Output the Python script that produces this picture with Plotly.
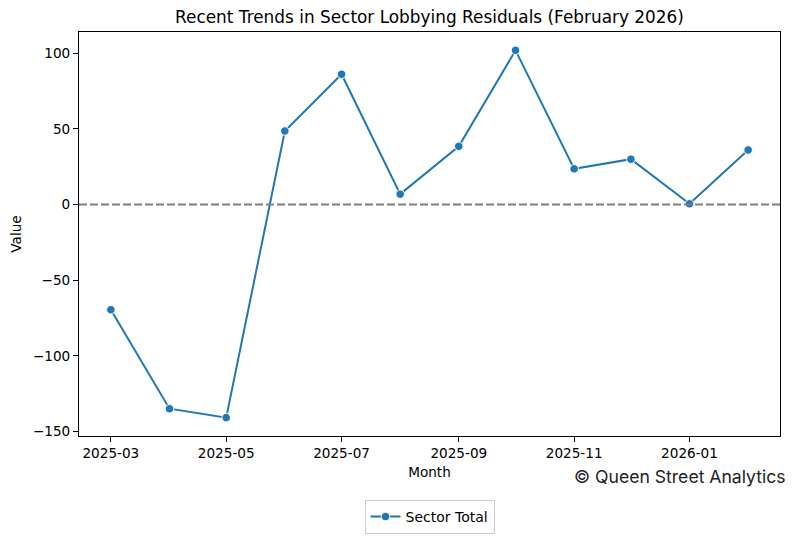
import plotly.graph_objects as go
import pandas as pd

months = ["2025-03-01", "2025-04-01", "2025-05-01", "2025-06-01", "2025-07-01", "2025-08-01",
          "2025-09-01", "2025-10-01", "2025-11-01", "2025-12-01", "2026-01-01", "2026-02-01"]
values = [-69.5, -134.9, -140.8, 48.6, 86.1, 6.9, 38.5, 101.9, 23.6, 30.0, 0.5, 36.1]
series_name = "Sector Total"
tick_dates = ["2025-03-01", "2025-05-01", "2025-07-01", "2025-09-01", "2025-11-01", "2026-01-01"]
tick_labels = ["2025-03", "2025-05", "2025-07", "2025-09", "2025-11", "2026-01"]
y_ticks = [-150, -100, -50, 0, 50, 100]

dates = pd.to_datetime(months)
span = dates.max() - dates.min()
pad = span * 0.05
x_range = [dates.min() - pad, dates.max() + pad]
vmin, vmax = min(values), max(values)
ypad = (vmax - vmin) * 0.05
y_range = [vmin - ypad, vmax + ypad]

FONT = "DejaVu Sans"
BLUE = "#1f77b4"

# page body has an 8px margin; figure is placed at (8, 8)
OFF = 8
W, H = 796 - OFF, 539 - OFF
L, R, T, B = 79 - OFF, 796 - 780, 32 - OFF, 539 - 436
PH = H - T - B
PW = W - L - R


def py(page_y):
    """page pixel y -> paper y"""
    return (H - B - (page_y - OFF)) / PH


def px(page_x):
    return (page_x - OFF - L) / PW


fig = go.Figure()
fig.add_trace(go.Scatter(
    x=dates, y=values, mode="lines+markers", name=series_name,
    line=dict(color=BLUE, width=2),
    marker=dict(color=BLUE, size=8.5, line=dict(color="white", width=1)),
))
fig.add_hline(y=0, line=dict(color="#808080", width=2, dash="8px,3px"), layer="above")

fig.update_layout(
    width=W, height=H,
    margin=dict(l=L, r=R, t=T, b=B, autoexpand=False),
    paper_bgcolor="white", plot_bgcolor="white",
    font=dict(family=FONT, size=13.6, color="black"),
    title=dict(text="Recent Trends in Sector Lobbying Residuals (February 2026)",
               x=px(429.5), xref="paper", xanchor="center",
               y=1 - (17 - OFF) / H, yref="container", yanchor="middle",
               font=dict(family=FONT, size=16.9, color="black")),
    showlegend=True,
    legend=dict(orientation="h", x=px(429.5), xanchor="center", xref="paper",
                y=py(517), yanchor="middle",
                bordercolor="#cccccc", borderwidth=1, bgcolor="white",
                font=dict(family=FONT, size=14, color="black")),
    xaxis=dict(range=x_range, type="date", tickmode="array", tickvals=pd.to_datetime(tick_dates),
               ticktext=tick_labels, ticks="outside", ticklen=5, tickwidth=1, tickcolor="black",
               showline=True, linecolor="black", linewidth=1, mirror=True, showgrid=False,
               zeroline=False, automargin=False,
               title=dict(text="Month", standoff=7, font=dict(family=FONT, size=13.6))),
    yaxis=dict(range=y_range, tickmode="array", tickvals=y_ticks,
               ticks="outside", ticklen=5, tickwidth=1, tickcolor="black",
               showline=True, linecolor="black", linewidth=1, mirror=True, showgrid=False,
               zeroline=False, automargin=False,
               title=dict(text="Value", standoff=8, font=dict(family=FONT, size=13.6))),
    annotations=[dict(text="© Queen Street Analytics", xref="paper", yref="paper",
                      x=px(788), xanchor="right", y=py(476), yanchor="middle",
                      showarrow=False, font=dict(family="Inter", size=17.6, color="#222222"))],
)

fig.write_html("out.html")
